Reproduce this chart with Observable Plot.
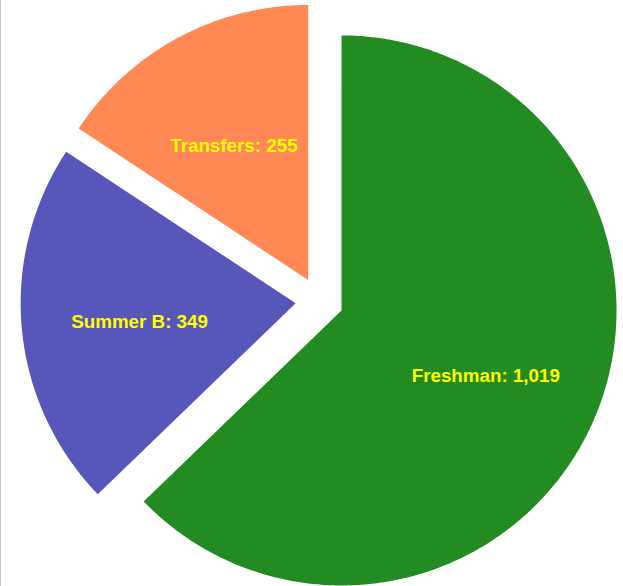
<!DOCTYPE html>
<html><head><meta charset="utf-8">
<script src="https://cdn.jsdelivr.net/npm/d3@7"></script>
<script src="https://cdn.jsdelivr.net/npm/@observablehq/plot@0.6"></script>
<style>
html,body{margin:0;padding:0;background:#fff;}
#chart{position:relative;width:623px;height:586px;}
#edge{position:absolute;left:0;top:0;width:1px;height:586px;background:#c3ccc3;}
</style></head><body><div id="chart"><div id="edge"></div></div>
<script>
const categories = ["Freshman", "Summer B", "Transfers"];
const values = [1019, 349, 255];
const colors = ["#228b22", "#5656bb", "#ff8855"];
const labelText = ["Freshman: 1,019", "Summer B: 349", "Transfers: 255"];

const pull = 0.087, labelR = 0.57;
const arcs = d3.pie().sort(null).value(d => d)(values);
const poly = [], labels = [];
arcs.forEach((a, i) => {
  const mid = (a.startAngle + a.endAngle) / 2;
  const ox = pull * Math.sin(mid), oy = pull * Math.cos(mid);
  poly.push({cat: categories[i], x: ox, y: oy});
  const n = Math.max(2, Math.ceil((a.endAngle - a.startAngle) / (Math.PI / 360)));
  for (let k = 0; k <= n; k++) {
    const t = a.startAngle + (a.endAngle - a.startAngle) * k / n;
    poly.push({cat: categories[i], x: ox + Math.sin(t), y: oy + Math.cos(t)});
  }
  poly.push({cat: categories[i], x: ox, y: oy});
  labels.push({text: labelText[i], x: (pull + labelR) * Math.sin(mid), y: (pull + labelR) * Math.cos(mid)});
});

const chart = Plot.plot({
  width: 623, height: 586,
  margin: 0,
  x: {domain: [-1, 1], range: [44, 594], axis: null},
  y: {domain: [-1, 1], range: [575.6, 25.6], axis: null},
  color: {domain: categories, range: colors},
  marks: [
    Plot.line(poly, {x: "x", y: "y", z: "cat", fill: "cat", stroke: "none", curve: "linear"}),
    Plot.text(labels, {x: "x", y: "y", text: "text", fill: "#ffff00", fontSize: 18.8, fontWeight: "bold", fontFamily: "Liberation Sans, Arial, sans-serif", dy: 4})
  ]
});
document.getElementById("chart").appendChild(chart);
</script></body></html>
